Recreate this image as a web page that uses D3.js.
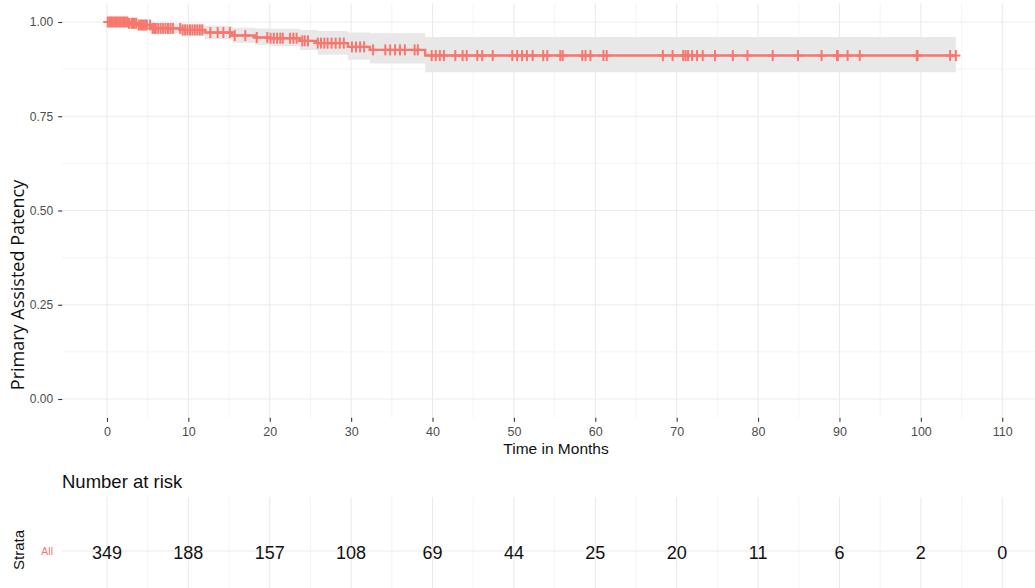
<!DOCTYPE html>
<html><head><meta charset="utf-8">
<script src="https://cdn.jsdelivr.net/npm/d3@7"></script>
<style>
html,body{margin:0;padding:0;background:#fff;}
svg{display:block;}
</style></head>
<body>
<script>
// ---- data ----
const stepTime = [0, 2.6, 3.8, 5.5, 9.2, 12.0, 15.4, 18.2, 20.0, 23.7, 25.9, 29.6, 32.3, 39.1, 104.3];
const survival = [1, 0.9966, 0.992, 0.983, 0.979, 0.972, 0.964, 0.959, 0.957, 0.950, 0.944, 0.934, 0.926, 0.911, 0.911];
const upperCI  = [1, 1, 1, 0.996, 0.994, 0.990, 0.985, 0.983, 0.982, 0.979, 0.976, 0.972, 0.970, 0.960, 0.960];
const lowerCI  = [1, 0.990, 0.984, 0.970, 0.963, 0.954, 0.945, 0.939, 0.936, 0.926, 0.913, 0.900, 0.890, 0.867, 0.867];
const censorTimes = [0.1,0.3,0.5,0.7,0.9,1.1,1.3,1.5,1.7,1.9,2.1,2.3,2.5,2.7,3.0,3.2,3.4,3.6,3.9,4.1,4.3,4.5,4.7,4.9,
  5.3,5.6,5.8,6.0,6.3,6.6,6.9,7.2,7.5,7.8,8.1,9.0,9.3,9.6,9.9,10.2,10.5,10.8,11.1,11.4,11.7,12.7,13.6,14.3,15.1,15.7,
  17.0,18.4,19.7,20.1,20.5,20.9,21.3,21.6,22.5,22.9,23.3,24.0,24.3,24.7,25.9,26.3,26.7,27.1,27.6,28.1,28.6,29.1,
  30.1,30.6,31.1,31.6,32.7,34.2,34.8,35.4,36.0,36.6,37.8,38.2,39.9,40.4,40.9,41.4,42.8,43.7,44.2,45.5,46.1,47.4,
  49.8,50.4,51.0,51.6,52.3,53.6,54.1,55.7,56.0,58.4,58.8,59.4,61.0,61.4,68.3,69.5,70.8,71.1,71.4,71.9,72.5,73.2,
  74.7,76.9,78.7,81.8,84.9,87.8,89.7,89.8,91.0,92.5,99.5,99.6,103.6,104.3];
const xTicks = [0,10,20,30,40,50,60,70,80,90,100,110];
const yTicks = [0, 0.25, 0.5, 0.75, 1];
const yTickLabels = ["0.00","0.25","0.50","0.75","1.00"];
const riskTimes = [0,10,20,30,40,50,60,70,80,90,100,110];
const riskCounts = [349,188,157,108,69,44,25,20,11,6,2,0];
const strataName = "All";

// ---- layout ----
const W = 1035, H = 588;
const red = "#F8766D";
const sans = "'Liberation Sans', Arial, sans-serif";
const svg = d3.select("body").append("svg").attr("width", W).attr("height", H);

const x = d3.scaleLinear().domain([-5.5, 115.5]).range([62.2, 1047]);
const y = d3.scaleLinear().domain([-0.05, 1.05]).range([417.85, 3.15]);
const panelTop = y(1.05), panelBot = y(-0.05);

const minorX = d3.range(5, 116, 10);
const minorY = [0.125, 0.375, 0.625, 0.875];

const grid = svg.append("g");
grid.selectAll(".mx").data(minorX).join("line")
  .attr("x1", d => x(d)).attr("x2", d => x(d)).attr("y1", panelTop).attr("y2", panelBot)
  .attr("stroke", "#f3f3f3").attr("stroke-width", 0.9);
grid.selectAll(".my").data(minorY).join("line")
  .attr("x1", x(-5.5)).attr("x2", x(115.5)).attr("y1", d => y(d)).attr("y2", d => y(d))
  .attr("stroke", "#f3f3f3").attr("stroke-width", 0.9);
grid.selectAll(".Mx").data(xTicks).join("line")
  .attr("x1", d => x(d)).attr("x2", d => x(d)).attr("y1", panelTop).attr("y2", panelBot)
  .attr("stroke", "#ebebeb").attr("stroke-width", 1.1);
grid.selectAll(".My").data(yTicks).join("line")
  .attr("x1", x(-5.5)).attr("x2", x(115.5)).attr("y1", d => y(d)).attr("y2", d => y(d))
  .attr("stroke", "#ebebeb").attr("stroke-width", 1.1);

// ---- KM data ----
const km = stepTime.map((t, i) => ({t, s: survival[i], u: upperCI[i], l: lowerCI[i]}));
const band = d3.area().curve(d3.curveStepAfter)
  .x(d => x(d.t)).y0(d => y(d.l)).y1(d => y(d.u));
svg.append("path").datum(km).attr("d", band).attr("fill", "#e8e8e8");

const line = d3.line().curve(d3.curveStepAfter).x(d => x(d.t)).y(d => y(d.s));
svg.append("path").datum(km).attr("d", line).attr("fill", "none")
  .attr("stroke", red).attr("stroke-width", 2.4);

const bis = d3.bisector(d => d).right;
function survAt(t){ const i = bis(stepTime, t) - 1; return survival[Math.max(0, i)]; }
const cens = svg.append("g").attr("stroke", red).attr("stroke-width", 2);
censorTimes.forEach(t => {
  const cx = x(t), cy = y(survAt(t));
  cens.append("line").attr("x1", cx).attr("x2", cx).attr("y1", cy - 5.5).attr("y2", cy + 5.5);
  cens.append("line").attr("x1", cx - 4.5).attr("x2", cx + 4.5).attr("y1", cy).attr("y2", cy);
});

// ---- axes ----
const xAxis = svg.append("g").attr("transform", `translate(0,${panelBot})`)
  .call(d3.axisBottom(x).tickValues(xTicks).tickSize(4).tickPadding(5));
xAxis.select(".domain").remove();
xAxis.selectAll(".tick line").attr("stroke", "#333").attr("stroke-width", 1.1);
xAxis.selectAll(".tick text").attr("fill", "#4d4d4d").style("font-family", sans).style("font-size", "12.5px");

const yAxis = svg.append("g").attr("transform", `translate(${x(-5.5)},0)`)
  .call(d3.axisLeft(y).tickValues(yTicks).tickFormat((d, i) => yTickLabels[i]).tickSize(4).tickPadding(5));
yAxis.select(".domain").remove();
yAxis.selectAll(".tick line").attr("stroke", "#333").attr("stroke-width", 1.1);
yAxis.selectAll(".tick text").attr("fill", "#4d4d4d").style("font-family", sans).style("font-size", "12px");

svg.append("text").attr("x", 556).attr("y", 454).attr("text-anchor", "middle")
  .style("font-family", sans).style("font-size", "15.5px").attr("fill", "#111").text("Time in Months");
svg.append("text").attr("transform", "translate(24,285) rotate(-90)").attr("text-anchor", "middle")
  .style("font-family", "'Open Sans', sans-serif").style("font-size", "18px").attr("fill", "#111")
  .text("Primary Assisted Patency");

// ---- risk table ----
const rTop = 497, rBot = 588, rY = 551;
const rg = svg.append("g");
rg.selectAll(".rmx").data(minorX).join("line")
  .attr("x1", d => x(d)).attr("x2", d => x(d)).attr("y1", rTop).attr("y2", rBot)
  .attr("stroke", "#f3f3f3").attr("stroke-width", 0.9);
rg.selectAll(".rMx").data(xTicks).join("line")
  .attr("x1", d => x(d)).attr("x2", d => x(d)).attr("y1", rTop).attr("y2", rBot)
  .attr("stroke", "#ebebeb").attr("stroke-width", 1.1);
rg.append("line").attr("x1", x(-5.5)).attr("x2", x(115.5)).attr("y1", rY).attr("y2", rY)
  .attr("stroke", "#ebebeb").attr("stroke-width", 1.1);

svg.append("text").attr("x", 62).attr("y", 488)
  .style("font-family", sans).style("font-size", "18.5px").attr("fill", "#111").text("Number at risk");
rg.selectAll(".rc").data(riskCounts).join("text")
  .attr("x", (d, i) => x(riskTimes[i])).attr("y", rY + 8).attr("text-anchor", "middle")
  .style("font-family", sans).style("font-size", "18px").attr("fill", "#111").text(d => d);
svg.append("text").attr("x", 53).attr("y", rY + 4).attr("text-anchor", "end")
  .style("font-family", sans).style("font-size", "10.5px").attr("fill", red).text(strataName);
svg.append("text").attr("transform", `translate(24,550) rotate(-90)`).attr("text-anchor", "middle")
  .style("font-family", sans).style("font-size", "15px").attr("fill", "#111").text("Strata");
</script>
</body></html>
